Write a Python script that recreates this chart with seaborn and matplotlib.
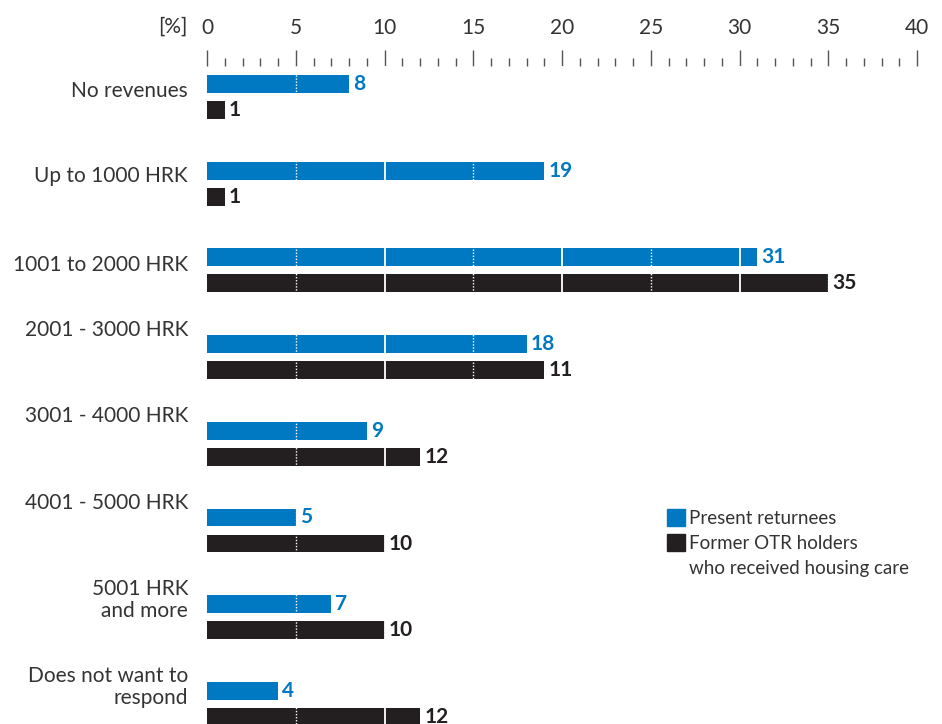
import pandas as pd
import matplotlib.pyplot as plt
import matplotlib.transforms as mtransforms
from matplotlib.patches import Patch
import seaborn as sns

# Income categories (top to bottom)
categories = ['No revenues', 'Up to 1000 HRK', '1001 to 2000 HRK', '2001 - 3000 HRK',
              '3001 - 4000 HRK', '4001 - 5000 HRK', '5001 HRK\nand more',
              'Does not want to\nrespond']

series_names = ['Present returnees', 'Former OTR holders']

present_values = [8, 19, 31, 18, 9, 5, 7, 4]
# bar lengths as drawn in the source; the 2001-3000 bar is drawn at 19 but labelled 11
former_values = [1, 1, 35, 19, 12, 10, 10, 12]
former_labels = ['1', '1', '35', '11', '12', '10', '10', '12']

x_ticks = [0, 5, 10, 15, 20, 25, 30, 35, 40]

blue = '#0079c2'
dark = '#231f20'
text_col = '#333333'

df = pd.DataFrame({
    'category': categories * 2,
    'series': [series_names[0]] * len(categories) + [series_names[1]] * len(categories),
    'value': present_values + former_values,
})

sns.set_style('white')
plt.rcParams['font.family'] = ['Lato', 'DejaVu Sans']

fig = plt.figure(figsize=(9.42, 7.24), dpi=100)
ax = fig.add_axes([207 / 942, 0, 710 / 942, 1 - 66 / 724])

sns.barplot(data=df, x='value', y='category', hue='series', orient='h',
            palette=[blue, dark], saturation=1, width=0.6, gap=0.31,
            errorbar=None, linewidth=0, legend=False, ax=ax)

ax.set_xlim(0, 40)
ax.set_ylim(7.232, -0.358)

# white grid lines visible only over the bars
for x in [10, 20, 30]:
    ax.axvline(x, color='white', lw=1.3, zorder=5)
for x in [5, 15, 25, 35]:
    ax.axvline(x, color='white', lw=1.0, ls=(0, (1, 1.2)), zorder=5)

# top axis with major/minor ticks
ax.xaxis.tick_top()
ax.set_xticks(x_ticks)
ax.set_xticks(range(0, 41), minor=True)
ax.tick_params(axis='x', which='major', length=11.5, width=1, color='#555555',
               pad=9, labelsize=15, labelcolor=text_col, direction='out')
ax.tick_params(axis='x', which='minor', length=5.5, width=1, color='#555555',
               direction='out')
ax.set_yticks([])
ax.set_xlabel('')
ax.set_ylabel('')
for s in ax.spines.values():
    s.set_visible(False)

fig.text(188 / 942, 1 - 27 / 724, '[%]', ha='right', va='center',
         fontsize=15, color=text_col)

# value labels
ax.bar_label(ax.containers[0], labels=[str(v) for v in present_values], padding=3,
             color=blue, fontsize=15, fontweight='bold', zorder=6)
ax.bar_label(ax.containers[1], labels=former_labels, padding=3,
             color=dark, fontsize=15, fontweight='bold', zorder=6)

# category labels
trans = mtransforms.blended_transform_factory(ax.transAxes, ax.transData)
label_shift = [0.05, 0.03, 0.05, -0.2, -0.2, -0.2, -0.08, -0.08]
for i, cat in enumerate(categories):
    ax.text(-19 / 710, i - 0.115 + label_shift[i], cat, transform=trans,
            ha='right', va='center', fontsize=15, color=text_col,
            linespacing=1.1, clip_on=False)

handles = [Patch(color=blue, label=series_names[0]),
           Patch(color=dark, label='Former OTR holders'),
           Patch(alpha=0, label='who received housing care')]
fig.legend(handles=handles, loc='upper left', bbox_to_anchor=(658 / 942, 1 - 500 / 724),
           frameon=False, fontsize=13.5, handlelength=0.96, handleheight=0.96,
           handletextpad=0.2, borderpad=0, labelspacing=0.4, labelcolor=text_col)

fig.savefig('out.png', dpi=100)
